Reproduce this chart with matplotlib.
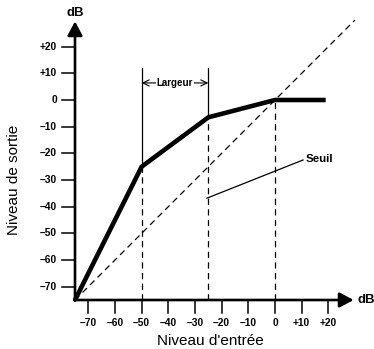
import matplotlib
matplotlib.use("Agg")
import matplotlib.pyplot as plt

plt.rcParams['font.family'] = ['Liberation Sans', 'DejaVu Sans']

# transfer curve of the compressor (input dB -> output dB)
curve_in = [-75, -50, -25, 0, 19]
curve_out = [-75, -25, -6.5, 0, 0]

# tick values and labels (same on both axes)
tick_vals = [-70, -60, -50, -40, -30, -20, -10, 0, 10, 20]
tick_labels = ["\u201370", "\u201360", "\u201350", "\u201340", "\u201330",
               "\u201320", "\u201310", "0", "+10", "+20"]

# knee limits (width) and threshold
knee_start = -50
knee_end = -25
threshold = 0

k = 26.667 / 10  # pixels per dB
fig = plt.figure(figsize=(3.74, 3.49), dpi=100)
ax = fig.add_axes([0, 0, 1, 1])
ax.set_xlim(-75 - 75 / k, -75 + 299 / k)
ax.set_ylim(-75 - 49 / k, -75 + 300 / k)
ax.axis('off')

lo = -75
tip = 29.5

# unity line
ax.plot([lo, 30], [lo, 30], color='k', lw=0.9, dashes=(5, 3.5))

# verticals: solid above the curve, dashed below
for xv, yv in zip(curve_in[1:4], curve_out[1:4]):
    ax.plot([xv, xv], [lo, yv], color='k', lw=0.9, dashes=(5, 3.5))
for xv, yv in [(knee_start, curve_out[1]), (knee_end, curve_out[2])]:
    ax.plot([xv, xv], [yv, 12], color='k', lw=0.9)

# the curve itself
ax.plot(curve_in, curve_out, color='k', lw=3.3, solid_joinstyle='miter',
        solid_capstyle='butt', zorder=5)

# axes with arrows
arrow = dict(arrowstyle='-|>,head_length=0.85,head_width=0.45', lw=1.9,
             color='k', shrinkA=0, shrinkB=0)
ax.annotate('', xy=(lo, tip), xytext=(lo, lo - 0.3), arrowprops=arrow, zorder=6)
ax.annotate('', xy=(tip, lo), xytext=(lo - 0.3, lo), arrowprops=arrow, zorder=6)

tl = 13 / k
for v, lab in zip(tick_vals, tick_labels):
    ax.plot([lo - tl, lo], [v, v], color='k', lw=1.1)
    ax.plot([v, v], [lo, lo - tl], color='k', lw=1.1)
    ax.text(lo - 18 / k, v, lab, ha='right', va='center', fontsize=7.4,
            fontweight='bold')
    ax.text(v, lo - 23 / k, lab, ha='center', va='center', fontsize=7.4,
            fontweight='bold')

ax.text(lo, 32.6, "dB", ha='center', va='center', fontsize=9.5, fontweight='bold')
ax.text(31.1, lo, "dB", ha='left', va='center', fontsize=9.5, fontweight='bold')

ax.text(-97.9, -30, "Niveau de sortie", rotation=90, ha='center', va='center',
        fontsize=11)
ax.text(-24.4, -90.4, "Niveau d'entr\u00e9e", ha='center', va='center',
        fontsize=11)

# width annotation
ax.annotate('', xy=(knee_start, 6.4), xytext=(knee_end, 6.4),
            arrowprops=dict(arrowstyle='<->,head_length=0.45,head_width=0.22',
                            lw=0.8, color='k', shrinkA=0, shrinkB=0))
ax.text((knee_start + knee_end) / 2, 6.4, "Largeur", ha='center', va='center',
        fontsize=7.0, fontweight='bold',
        bbox=dict(facecolor='white', edgecolor='none', pad=0.8))

# threshold annotation
ax.plot([-25.5, 10.5], [-36.8, -22.5], color='k', lw=0.9)
ax.text(11.5, -22.3, "Seuil", ha='left', va='center', fontsize=8.2,
        fontweight='bold')

fig.savefig("out.png", dpi=100)
